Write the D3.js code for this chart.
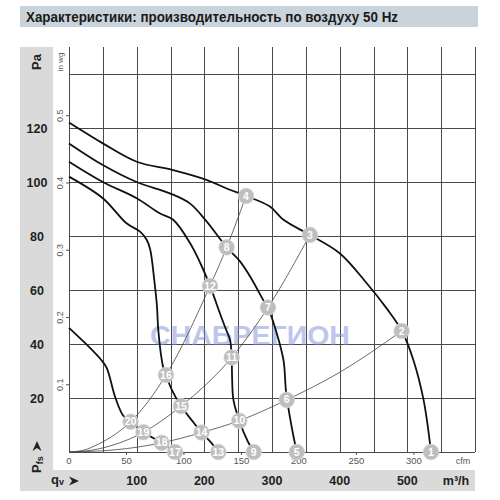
<!DOCTYPE html>
<html><head><meta charset="utf-8">
<script src="https://cdn.jsdelivr.net/npm/d3@7"></script>
<style>body{margin:0;background:#fff}svg{display:block;font-family:"Liberation Sans",Arial,sans-serif}</style>
</head><body>
<svg id="c" width="500" height="500"></svg>
<script>
// ---------- data (q in m³/h, p in Pa) ----------
const title = "Характеристики: производительность по воздуху 50 Hz";
const paTicks = [20, 40, 60, 80, 100, 120];
const inwgTicks = [0.1, 0.2, 0.3, 0.4, 0.5];
const cfmTicks = [50, 100, 150, 200, 250, 300];
const m3hTicks = [100, 200, 300, 400, 500];

const curveA = [[0,122],[50,114.3],[100,107.5],[154,104.4],[203,100.8],[233,97.6],[262,94.8],[297,90.9],[317,86],[356,80.4],[400,73.6],[440,62.5],[470,53],[492,44.8],[509,34],[524,19.3],[535,0]];
const curveB = [[0,114.3],[50,106.3],[100,100],[149,95.8],[179,92],[203,85.5],[233,75.8],[253,70.5],[270,64],[287,56.3],[294,53.5],[307,44],[317,34],[321,21.7],[329,9.4],[336.5,0]];
const curveC = [[0,107.5],[50,100],[100,94],[134,88.4],[154,86],[179,77.3],[194,70],[208.4,61.5],[223,51.4],[231,46],[238,41.5],[240.4,35],[241,27.9],[243,19.3],[251.7,11.6],[264,4],[273,0]];
const curveD = [[0,102],[50,94],[85,84.7],[105,81.6],[115,78.5],[120,75],[126,63.7],[130,54],[132,45],[139,31.6],[143.3,28.5],[152,23],[165.5,17],[181,11.9],[196,7.2],[211,3.2],[220.6,0]];
const curveE = [[0,46],[24,40.3],[48,34],[56,31],[68,20.5],[80,13.5],[91,11.2],[110,7.3],[137,3.4],[156.6,0]];
const fanCurves = [curveA, curveB, curveC, curveD, curveE];

const resist1 = [[0,0],[22,0.7],[44,3],[68,6.5],[91,11.2],[143.3,28.5],[208.4,61.5],[233,75.8],[261.6,94.8]];
const resist2 = [[0,0],[34,0.7],[68,2.8],[110,7.3],[165.5,17],[240.4,35],[294,53.5],[356,80.4]];
const resist3 = [[0,0],[68,0.8],[137,3.4],[196,7.2],[251.7,11.6],[321.7,19.3],[400,29.5],[491.6,44.8]];
const resistCurves = [resist1, resist2, resist3];

const pointLabels = ["1","2","3","4","5","6","7","8","9","10","11","12","13","14","15","16","17","18","19","20"];
const pointQ = [535,491.6,356,261.6,336.5,321.7,294,233,273,251.7,240.4,208.4,220.6,196,165.5,143.3,156.6,137,110,91];
const pointP = [0,44.8,80.4,94.8,0,19.3,53.5,75.8,0,11.6,35,61.5,0,7.2,17,28.5,0,3.4,7.3,11.2];

// ---------- drawing ----------
const svg = d3.select("#c");
const x = d3.scaleLinear().domain([0, 600]).range([69, 475]);
const y = d3.scaleLinear().domain([0, 150]).range([452, 47]);
const CFM = 1.699; // m³/h per cfm
const INWG = 249.09; // Pa per in wg

// title bar
svg.append("rect").attr("x",20).attr("y",6).attr("width",458).attr("height",21).attr("fill","#c9d3dc");
svg.append("text").attr("x",26).attr("y",22).attr("font-size",14).attr("font-weight","bold")
  .attr("fill","#1a1a1a").attr("textLength",372).attr("lengthAdjust","spacingAndGlyphs").text(title);

// gray frame panels
svg.append("rect").attr("x",20).attr("y",47).attr("width",33).attr("height",444).attr("fill","#dadada");
svg.append("rect").attr("x",20).attr("y",470).attr("width",455).attr("height",21).attr("fill","#dadada");

// grid
const g = svg.append("g");
const vlines = d3.range(0, 601, 50);
g.selectAll("line.v").data(vlines).join("line")
  .attr("x1",d=>Math.round(x(d))+0.5).attr("x2",d=>Math.round(x(d))+0.5)
  .attr("y1",y(150)).attr("y2",y(0)).attr("stroke","#4a4a4a").attr("stroke-width",1);
const hlines = d3.range(0, 141, 20);
g.selectAll("line.h").data(hlines).join("line")
  .attr("x1",x(0)).attr("x2",x(600))
  .attr("y1",d=>Math.round(y(d))+0.5).attr("y2",d=>Math.round(y(d))+0.5)
  .attr("stroke","#4a4a4a").attr("stroke-width",1);

// Pa labels
svg.selectAll("text.pa").data(paTicks).join("text")
  .attr("x",37).attr("y",d=>y(d)+4.5).attr("text-anchor","middle")
  .attr("font-size",12.5).attr("font-weight","bold").attr("fill","#222").text(d=>d);
svg.append("text").attr("transform","translate(41,62) rotate(-90)").attr("text-anchor","middle")
  .attr("font-size",13).attr("font-weight","bold").attr("fill","#222").text("Pa");

// in wg labels & ticks
svg.selectAll("text.iw").data(inwgTicks).join("text")
  .attr("transform",d=>`translate(63,${y(d*INWG)}) rotate(-90)`).attr("text-anchor","middle")
  .attr("font-size",9).attr("fill","#555").text(d=>d.toFixed(1));
svg.selectAll("line.iw").data(inwgTicks).join("line")
  .attr("x1",66).attr("x2",69).attr("y1",d=>y(d*INWG)).attr("y2",d=>y(d*INWG)).attr("stroke","#555");
svg.append("text").attr("transform","translate(63,62) rotate(-90)").attr("text-anchor","middle")
  .attr("font-size",8).attr("fill","#555").text("in wg");

// cfm labels & ticks
svg.append("text").attr("x",x(0)).attr("y",464).attr("text-anchor","middle").attr("font-size",9.5).attr("fill","#555").text("0");
svg.selectAll("text.cfm").data(cfmTicks).join("text")
  .attr("x",d=>x(d*CFM)).attr("y",464).attr("text-anchor","middle")
  .attr("font-size",9.5).attr("fill","#555").text(d=>d);
svg.selectAll("line.cfm").data(cfmTicks).join("line")
  .attr("x1",d=>x(d*CFM)).attr("x2",d=>x(d*CFM)).attr("y1",452).attr("y2",455).attr("stroke","#555");
svg.append("text").attr("x",463).attr("y",464).attr("text-anchor","middle").attr("font-size",9).attr("fill","#555").text("cfm");

// m³/h labels
svg.selectAll("text.m3").data(m3hTicks).join("text")
  .attr("x",d=>x(d)).attr("y",485).attr("text-anchor","middle")
  .attr("font-size",12.5).attr("font-weight","bold").attr("fill","#222").text(d=>d);
svg.append("text").attr("x",456).attr("y",485).attr("text-anchor","middle")
  .attr("font-size",12.5).attr("font-weight","bold").attr("fill","#222").text("m³/h");

// axis symbols
const pfs = svg.append("text").attr("transform","translate(41,473) rotate(-90)")
  .attr("font-size",13).attr("font-weight","bold").attr("fill","#222");
pfs.append("tspan").text("P");
pfs.append("tspan").attr("font-size",9).attr("dy",2).text("fs");
svg.append("path").attr("d","M37,441 L41.5,451 L37,448 L32.5,451 Z").attr("fill","#222");
const qv = svg.append("text").attr("x",51).attr("y",484)
  .attr("font-size",13).attr("font-weight","bold").attr("fill","#222");
qv.append("tspan").text("q");
qv.append("tspan").attr("font-size",9).attr("dy",1).text("v");
svg.append("path").attr("d","M79,481 L69,476.5 L72,481 L69,485.5 Z").attr("fill","#222");

// watermark text
svg.append("text").attr("x",250).attr("y",345).attr("text-anchor","middle")
  .attr("font-size",27).attr("font-weight","bold").attr("fill","#7f8fd8").attr("opacity",0.5)
  .attr("textLength",200).attr("lengthAdjust","spacingAndGlyphs").text("СНАБРЕГИОН");

// resistance lines
const rl = d3.line().x(d=>x(d[0])).y(d=>y(d[1])).curve(d3.curveMonotoneX);
svg.selectAll("path.res").data(resistCurves).join("path")
  .attr("d",rl).attr("fill","none").attr("stroke","#444").attr("stroke-width",0.8);

// fan curves
const fl = d3.line().x(d=>x(d[0])).y(d=>y(d[1])).curve(d3.curveCatmullRom.alpha(0.5));
svg.selectAll("path.fan").data(fanCurves).join("path")
  .attr("d",fl).attr("fill","none").attr("stroke","#111").attr("stroke-width",1.8);

// markers
const pts = pointLabels.map((l,i)=>({l, q:pointQ[i], p:pointP[i]}));
const mk = svg.selectAll("g.mk").data(pts).join("g")
  .attr("transform",d=>`translate(${x(d.q)},${y(d.p)})`);
mk.append("circle").attr("r",7.8).attr("fill","#bebebe").attr("stroke","#d6d6d6").attr("stroke-width",0.8);
mk.append("text").attr("y",3.6).attr("text-anchor","middle").attr("font-size",10.5)
  .attr("font-weight","bold").attr("fill","#fff").text(d=>d.l);
</script>
</body></html>
